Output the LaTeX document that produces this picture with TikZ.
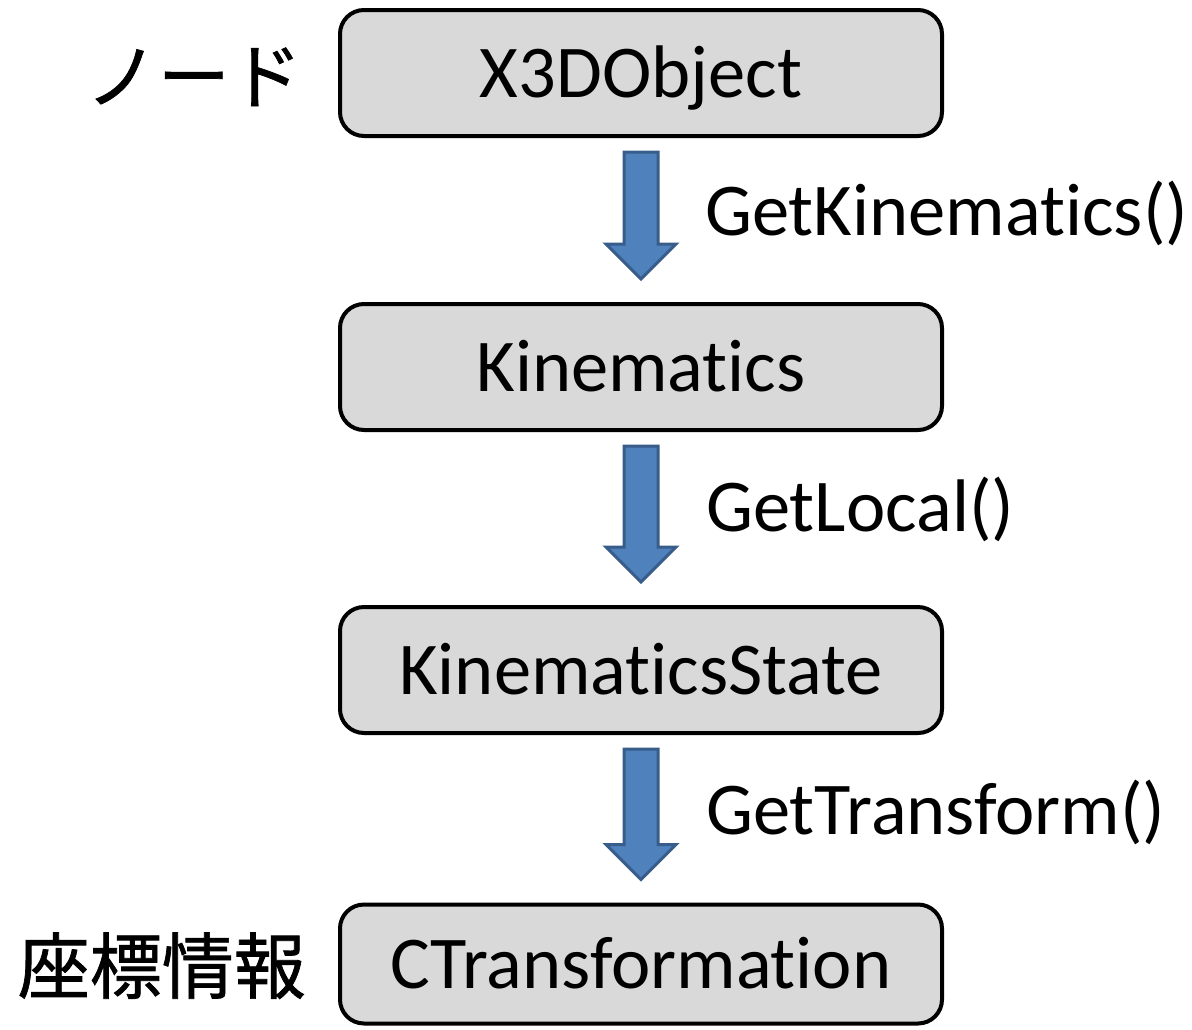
\documentclass[tikz,border=0pt]{standalone}
\usepackage{fontspec}
\setmainfont{Carlito}[Ligatures={NoCommon}]
\newfontfamily\jpfont{Noto Sans CJK JP}[FakeBold=1.0]
\usetikzlibrary{calc}
\definecolor{boxfill}{HTML}{D9D9D9}
\definecolor{arrfill}{HTML}{4F81BD}
\definecolor{arrline}{HTML}{385D8A}
\tikzset{
  classbox/.style={draw=black, line width=4pt, fill=boxfill, rounded corners=24pt,
    minimum width=602pt, minimum height=126pt, inner sep=0pt,
    font=\fontsize{74.5}{80}\selectfont, text height=48pt, text depth=0pt},
  boxbottom/.style={classbox, minimum height=119pt},
  blockarr/.style={fill=arrfill, draw=arrline, line width=3pt, line join=miter},
  methodlabel/.style={anchor=west, inner sep=0pt, font=\fontsize{74.5}{80}\selectfont,
    text height=48pt, text depth=0pt},
  jplabel/.style={anchor=east, inner sep=0pt, font=\jpfont\fontsize{72}{80}\selectfont,
    text height=56pt, text depth=0pt}
}
\newcommand{\blockarrow}[2]{%
  \draw[blockarr] ($(#1.south)+(-17,14)$) -- ($(#2.north)+(-17,-58)$)
    -- ($(#2.north)+(-35,-58)$) -- ($(#2.north)+(0,-23)$)
    -- ($(#2.north)+(35,-58)$) -- ($(#2.north)+(17,-58)$)
    -- ($(#1.south)+(17,14)$) -- cycle;}
\begin{document}
\begin{tikzpicture}[x=1pt, y=-1pt]
\useasboundingbox (0,0) rectangle (1192,1029);
\node[classbox] (x3d) at (641,73) {X3DObject};
\node[classbox] (kin) at (641,367) {Kinematics};
\node[classbox] (kst) at (641,670) {KinematicsState};
\node[boxbottom] (ctr) at (641,964) {CTransformation};
\blockarrow{x3d}{kin}
\blockarrow{kin}{kst}
\blockarrow{kst}{ctr}
\node[methodlabel] (l1) at (705,211) {GetKinematics()};
\node[methodlabel] (l2) at (706,507) {GetLocal()};
\node[methodlabel] (l3) at (706,810) {GetTransform()};
\node[jplabel] (node) at (302,75) {ノード};
\node[jplabel] (coord) at (306,965) {座標情報};
\end{tikzpicture}
\end{document}
